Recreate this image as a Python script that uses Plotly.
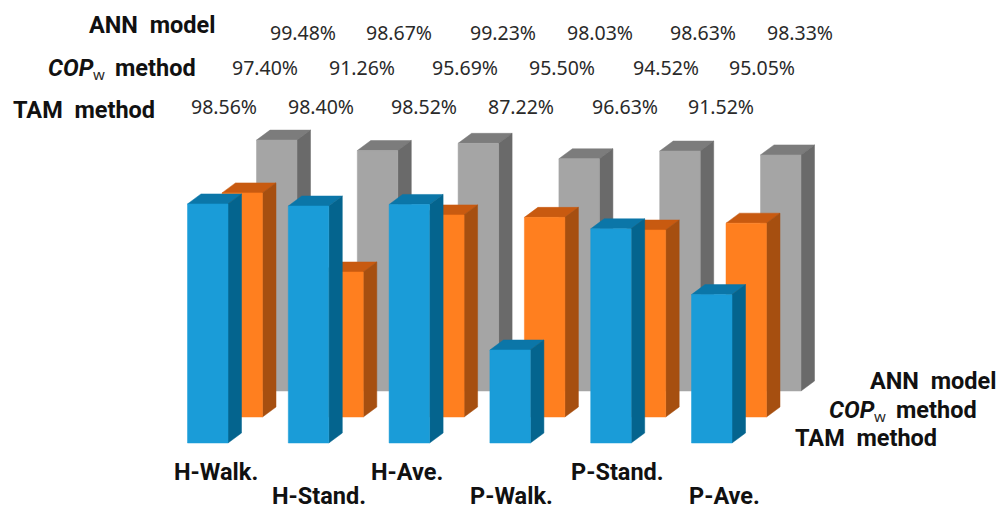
import plotly.graph_objects as go

# Recognition accuracy (%) per activity and per method
categories = ["H-Walk.", "H-Stand.", "H-Ave.", "P-Walk.", "P-Stand.", "P-Ave."]
ann_model = [99.48, 98.67, 99.23, 98.03, 98.63, 98.33]
cop_method = [97.40, 91.26, 95.69, 95.50, 94.52, 95.05]
tam_method = [98.56, 98.40, 98.52, 87.22, 96.63, 91.52]

W, H = 1001, 510
AXIS_BASE = 80.0
PX_PER_PCT = 12.88
PX_PER_CAT = 100.8
FIRST_BAR_PX = 207.75   # centre of the first front-row bar
BASE_PX = 443.0

X_RANGE = [-FIRST_BAR_PX / PX_PER_CAT, (W - FIRST_BAR_PX) / PX_PER_CAT]
Y_RANGE = [AXIS_BASE - (H - BASE_PX) / PX_PER_PCT, AXIS_BASE + BASE_PX / PX_PER_PCT]

# Oblique projection: offsets expressed in axis units
HALF_W = 20.25 / PX_PER_CAT
SIDE_DX = 13.5 / PX_PER_CAT
SIDE_DY = 10.0 / PX_PER_PCT
ROW_DX = 34.5 / PX_PER_CAT
ROW_DY = 26.0 / PX_PER_PCT

# Back row first so nearer rows paint over it
rows = [
    (ann_model, 2, "ANN model", "#A5A5A5", "#7C7C7C", "#6A6A6A"),
    (cop_method, 1, "COP method", "#FF7F1F", "#C85A10", "#A64F10"),
    (tam_method, 0, "TAM method", "#1A9CD8", "#0B76A8", "#04648E"),
]


def polygons(values, depth, face):
    xs, ys = [], []
    for i, v in enumerate(values):
        x0 = i + depth * ROW_DX - HALF_W
        x1 = i + depth * ROW_DX + HALF_W
        y0 = AXIS_BASE + depth * ROW_DY
        y1 = v + depth * ROW_DY
        if face == "front":
            px, py = [x0, x1, x1, x0, x0], [y0, y0, y1, y1, y0]
        elif face == "side":
            px = [x1, x1 + SIDE_DX, x1 + SIDE_DX, x1, x1]
            py = [y0, y0 + SIDE_DY, y1 + SIDE_DY, y1, y0]
        else:
            px = [x0, x1, x1 + SIDE_DX, x0 + SIDE_DX, x0]
            py = [y1, y1, y1 + SIDE_DY, y1 + SIDE_DY, y1]
        xs += px + [None]
        ys += py + [None]
    return xs, ys


fig = go.Figure()
for values, depth, name, front, top, side in rows:
    for face, colour in (("top", top), ("side", side), ("front", front)):
        xs, ys = polygons(values, depth, face)
        fig.add_trace(go.Scatter(
            x=xs, y=ys, mode="lines", fill="toself", fillcolor=colour,
            line=dict(color=colour, width=0.5), name=name,
            showlegend=False, hoverinfo="skip",
        ))


def label(text, x_px, y_px, size, bold=False):
    fig.add_annotation(
        text=f"<b>{text}</b>" if bold else text,
        x=x_px / W, y=1 - y_px / H, xref="paper", yref="paper",
        xanchor="center", yanchor="middle", showarrow=False,
        borderpad=0,
        font=dict(family="Roboto" if bold else "Noto Sans", size=size,
                  color="#111111" if bold else "#2A2A2A"),
    )


def cop_label(x_px, y_px):
    # Italic symbol, small subscript and the word are placed side by side
    label("<i>COP</i>", x_px, y_px, 23.5, True)
    label("w", x_px + 27.5, y_px + 6, 15)
    label("method", x_px + 84, y_px, 23.5, True)


# Percentages above the bars, one row per method
value_rows = [
    (ann_model, [302.5, 399, 502.7, 599.5, 703, 799.5], 32),
    (cop_method, [265.3, 362, 465, 562, 666, 762], 68),
    (tam_method, [224, 320.7, 424, 520.5, 624.5, 721], 106),
]
for values, x_positions, y_px in value_rows:
    for v, x_px in zip(values, x_positions):
        label(f"{v:.2f}%", x_px, y_px, 19.5)

# Method names: top-left block and the depth axis on the right
label("ANN  model", 152, 25, 23.5, True)
cop_label(71, 68)
label("TAM  method", 84, 110, 23.5, True)
label("ANN  model", 933, 381, 23.5, True)
cop_label(852, 410)
label("TAM  method", 866, 438, 23.5, True)

# Staggered category labels below the front row
cat_x = [216, 319, 407, 511, 617, 724]
cat_y = [472, 496, 472, 496, 472, 496]
for name, x_px, y_px in zip(categories, cat_x, cat_y):
    label(name, x_px, y_px, 23.5, True)

fig.update_layout(
    width=W, height=H, margin=dict(l=0, r=0, t=0, b=0),
    paper_bgcolor="white", plot_bgcolor="white", showlegend=False,
    xaxis=dict(range=X_RANGE, visible=False, fixedrange=True),
    yaxis=dict(range=Y_RANGE, visible=False, fixedrange=True),
)
fig.write_html("out.html", config={"displayModeBar": False})
